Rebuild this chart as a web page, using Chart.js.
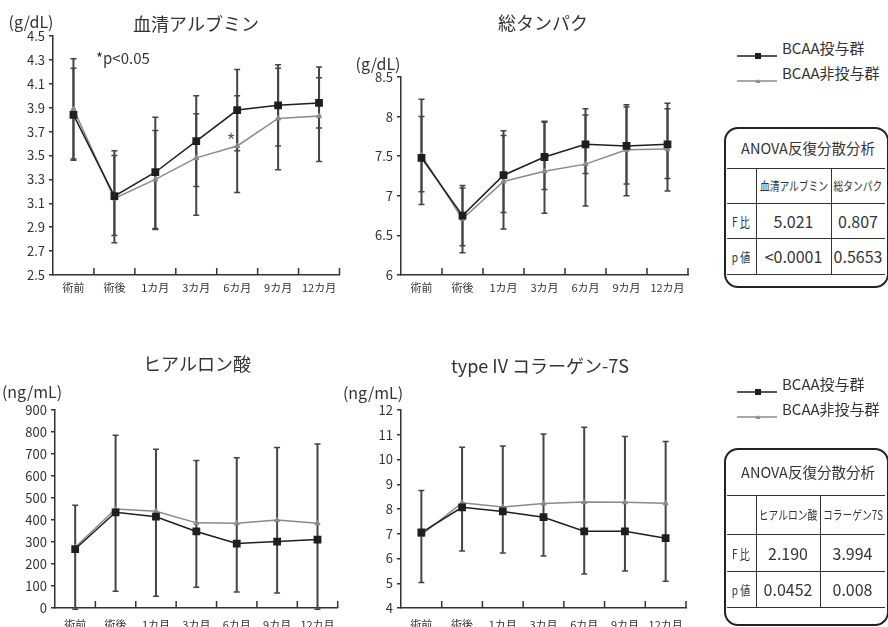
<!DOCTYPE html>
<html><head><meta charset="utf-8">
<script src="https://cdn.jsdelivr.net/npm/chart.js@4"></script>
<style>
html,body{margin:0;padding:0;width:888px;height:627px;overflow:hidden;background:#fff;}
body{position:relative;font-family:'Noto Sans CJK JP','Noto Sans',sans-serif;color:#333;font-weight:400;}
canvas{position:absolute;}
.t{position:absolute;white-space:nowrap;transform:translate(-50%,-50%);line-height:1;}
.l{position:absolute;white-space:nowrap;transform:translate(0,-50%);line-height:1;}
.box{position:absolute;border:2px solid #222;border-radius:14px;box-sizing:border-box;}
.hl{position:absolute;height:0;border-top:1.5px solid #333;}
.vl{position:absolute;width:0;border-left:1.5px solid #333;}
.cond{display:inline-block;transform:scaleX(0.78);}
</style></head><body>
<canvas id="c1" width="345" height="300" style="left:0;top:0"></canvas>
<canvas id="c2" width="350" height="300" style="left:345px;top:0"></canvas>
<canvas id="c3" width="345" height="310" style="left:0;top:330px"></canvas>
<canvas id="c4" width="350" height="310" style="left:345px;top:330px"></canvas>
<div id="overlay"></div>
<script>
const FONT = "'Noto Sans CJK JP','Noto Sans',sans-serif";
const categories = ['術前','術後','1カ月','3カ月','6カ月','9カ月','12カ月'];
const seriesNames = ['BCAA投与群','BCAA非投与群'];

// 血清アルブミン (g/dL)
const albBcaa   = [3.84,3.16,3.36,3.62,3.88,3.92,3.94];
const albBcaaLo = [3.46,2.77,2.89,3.24,3.54,3.58,3.45];
const albBcaaHi = [4.23,3.54,3.82,4.00,4.22,4.26,4.24];
const albNon    = [3.89,3.14,3.30,3.48,3.58,3.81,3.83];
const albNonLo  = [3.47,2.83,2.88,3.00,3.19,3.38,3.73];
const albNonHi  = [4.31,3.50,3.71,3.85,4.00,4.23,4.15];
const albTicks  = [2.5,2.7,2.9,3.1,3.3,3.5,3.7,3.9,4.1,4.3,4.5];

// 総タンパク (g/dL)
const tpBcaa   = [7.48,6.75,7.26,7.49,7.65,7.63,7.65];
const tpBcaaLo = [6.89,6.37,6.79,7.08,7.28,7.15,7.22];
const tpBcaaHi = [8.00,7.13,7.82,7.94,8.10,8.12,8.17];
const tpNon    = [7.51,6.71,7.18,7.31,7.40,7.58,7.59];
const tpNonLo  = [7.05,6.28,6.58,6.78,6.87,7.00,7.06];
const tpNonHi  = [8.22,7.10,7.76,7.93,8.02,8.15,8.10];
const tpTicks  = [6,6.5,7,7.5,8,8.5];

// ヒアルロン酸 (ng/mL)
const haBcaa   = [268,435,415,348,293,302,311];
const haBcaaLo = [-6,76,53,94,73,68,-6];
const haNon    = [276,450,440,387,385,400,385];
const haNonHi  = [467,785,722,670,683,730,745];
const haTicks  = [0,100,200,300,400,500,600,700,800,900];

// type IV コラーゲン-7S (ng/mL)
const c7Bcaa   = [7.05,8.07,7.90,7.67,7.10,7.10,6.82];
const c7BcaaLo = [5.03,6.30,6.22,6.10,5.37,5.50,5.08];
const c7Non    = [6.95,8.25,8.08,8.22,8.28,8.27,8.23];
const c7NonHi  = [8.75,10.50,10.55,11.03,11.30,10.93,10.73];
const c7Ticks  = [4,5,6,7,8,9,10,11,12];

// ANOVA tables
const anovaTopCols = ['血清アルブミン','総タンパク'];
const anovaTopF    = ['5.021','0.807'];
const anovaTopP    = ['<0.0001','0.5653'];
const anovaBotCols = ['ヒアルロン酸','コラーゲン7S'];
const anovaBotF    = ['2.190','3.994'];
const anovaBotP    = ['0.0452','0.008'];

const barsById = {
  c1: [{lo:albBcaaLo, hi:albBcaaHi},{lo:albNonLo, hi:albNonHi}],
  c2: [{lo:tpBcaaLo, hi:tpBcaaHi},{lo:tpNonLo, hi:tpNonHi}],
  c3: [{lo:haBcaaLo, hi:haNonHi}],
  c4: [{lo:c7BcaaLo, hi:c7NonHi}]
};

const errPlugin = {
  id:'errbars',
  beforeDatasetsDraw(chart){
    const bars = barsById[chart.canvas.id] || [];
    const xs = chart.scales.x, ys = chart.scales.y, ctx = chart.ctx;
    ctx.save();
    ctx.strokeStyle = '#444';
    bars.forEach(b=>{
      b.lo.forEach((lo,i)=>{
        const x = xs.getPixelForValue(i);
        const y1 = ys.getPixelForValue(lo), y2 = ys.getPixelForValue(b.hi[i]);
        ctx.lineWidth = 2;
        ctx.beginPath(); ctx.moveTo(x,y1); ctx.lineTo(x,y2); ctx.stroke();
        ctx.lineWidth = 1.5;
        ctx.beginPath();
        ctx.moveTo(x-3,y1); ctx.lineTo(x+3,y1);
        ctx.moveTo(x-3,y2); ctx.lineTo(x+3,y2);
        ctx.stroke();
      });
    });
    ctx.restore();
  },
  afterDraw(chart){
    const xs = chart.scales.x, ctx = chart.ctx, n = categories.length;
    const half = (xs.getPixelForValue(1) - xs.getPixelForValue(0))/2;
    ctx.save();
    ctx.strokeStyle = '#333'; ctx.lineWidth = 1.5;
    ctx.beginPath();
    for(let i=1;i<=n;i++){
      const x = i<n ? xs.getPixelForValue(i)-half : xs.getPixelForValue(n-1)+half;
      ctx.moveTo(x, xs.top); ctx.lineTo(x, xs.top-7);
    }
    ctx.stroke();
    ctx.restore();
  }
};

function makeChart(id, bcaa, non, ticks, fmt, lay){
  return new Chart(document.getElementById(id), {
    type:'line',
    data:{labels:categories, datasets:[
      {label:seriesNames[0], data:bcaa, borderColor:'#1e1e1e', backgroundColor:'#1e1e1e',
       borderWidth:1.5, pointStyle:'rect', pointRadius:5.5, pointBorderWidth:0, tension:0},
      {label:seriesNames[1], data:non, borderColor:'#8a8a8a', backgroundColor:'#8a8a8a',
       borderWidth:1.5, pointStyle:'triangle', pointRadius:3, pointBorderWidth:1, tension:0}
    ]},
    options:{
      responsive:false, animation:false, devicePixelRatio:1,
      layout:{padding:{top:lay.top, right:lay.right, left:0, bottom:0}},
      plugins:{legend:{display:false}, tooltip:{enabled:false}, title:{display:false}},
      scales:{
        x:{type:'category', offset:true,
           grid:{display:false, drawTicks:false, tickLength:0},
           border:{display:true, color:'#333', width:1.5},
           ticks:{color:'#333', font:{family:FONT, size:11}, padding:lay.xpad, maxRotation:0, autoSkip:false},
           afterFit:s=>{s.height = lay.xh;}},
        y:{type:'linear', min:ticks[0], max:ticks[ticks.length-1],
           afterBuildTicks:s=>{s.ticks = ticks.map(v=>({value:v}));},
           grid:{drawOnChartArea:false, drawTicks:true, tickLength:4, color:'#333', lineWidth:1.5},
           border:{display:true, color:'#333', width:1.5},
           ticks:{color:'#333', font:{family:FONT, size:13}, padding:4, callback:fmt},
           afterFit:s=>{s.width = lay.yw;}}
      }
    },
    plugins:[errPlugin]
  });
}

makeChart('c1', albBcaa, albNon, albTicks, v=>Number(v).toFixed(1), {top:36, right:5, xh:25, yw:53, xpad:6});
makeChart('c2', tpBcaa, tpNon, tpTicks, v=>String(v), {top:77, right:7, xh:25, yw:56, xpad:6});
makeChart('c3', haBcaa, haNon, haTicks, v=>String(v), {top:80, right:3, xh:32, yw:55, xpad:10});
makeChart('c4', c7Bcaa, c7Non, c7Ticks, v=>String(v), {top:80, right:9, xh:32, yw:56, xpad:10});

// ---- text, legends, tables ----
const ov = document.getElementById('overlay');
function txt(cls, x, y, s, size, extra){
  const d = document.createElement('div');
  d.className = cls; d.style.left = x+'px'; d.style.top = y+'px';
  d.style.fontSize = size+'px';
  if (extra) Object.assign(d.style, extra);
  d.innerHTML = s; ov.appendChild(d); return d;
}
function hl(x1,x2,y){const d=document.createElement('div');d.className='hl';d.style.left=x1+'px';d.style.width=(x2-x1)+'px';d.style.top=y+'px';ov.appendChild(d);}
function vl(x,y1,y2){const d=document.createElement('div');d.className='vl';d.style.left=x+'px';d.style.top=y1+'px';d.style.height=(y2-y1)+'px';ov.appendChild(d);}

txt('t',196,23,'血清アルブミン',18);
txt('t',543,22,'総タンパク',18);
txt('t',197,363,'ヒアルロン酸',18);
txt('t',540,365,'type IV コラーゲン-7S',18);
txt('t',31,21,'(g/dL)',16);
txt('t',378,63,'(g/dL)',16);
txt('t',32,391,'(ng/mL)',16);
txt('t',373,392,'(ng/mL)',16);
txt('l',96,57,'*p&lt;0.05',15);
txt('t',231,140,'*',22,{color:'#555', fontWeight:'300'});

function legend(y0){
  const mk = (y, color, marker) => {
    const d = document.createElement('div');
    d.style.position='absolute'; d.style.left='737px'; d.style.top=(y-5)+'px';
    d.innerHTML = '<svg width="40" height="10"><line x1="0" y1="5" x2="40" y2="5" stroke="'+color+'" stroke-width="1.5"/>'+marker+'</svg>';
    ov.appendChild(d);
  };
  mk(y0,'#1e1e1e','<rect x="18" y="2" width="6" height="6" fill="#1e1e1e"/>');
  mk(y0+25,'#8a8a8a','<polygon points="21,3 23.5,7 18.5,7" fill="#8a8a8a"/>');
  txt('l',782,y0,seriesNames[0],15);
  txt('l',782,y0+25,seriesNames[1],15);
}
legend(47);
legend(383);

function table(t, b, vx, ys, cols, fv, pv){
  const box = document.createElement('div');
  box.className='box'; box.style.left='724px'; box.style.top=t+'px';
  box.style.width='165px'; box.style.height=(b-t)+'px';
  ov.appendChild(box);
  ys.forEach(y=>hl(727,885,y));
  vl(756, ys[0], ys[3]); vl(vx, ys[0], ys[3]);
  txt('t',808,(t+ys[0])/2,'ANOVA反復分散分析',14.5);
  const c1 = (756+vx)/2, c2 = (vx+885)/2;
  const r1 = (ys[0]+ys[1])/2, r2 = (ys[1]+ys[2])/2, r3 = (ys[2]+ys[3])/2;
  txt('t',c1,r1,'<span class="cond">'+cols[0]+'</span>',12.5);
  txt('t',c2,r1,'<span class="cond">'+cols[1]+'</span>',12.5);
  txt('t',741,r2,'<span class="cond">F 比</span>',13);
  txt('t',741,r3,'<span class="cond">p 値</span>',13);
  txt('t',c1,r2,fv[0],16); txt('t',c2,r2,fv[1],16);
  txt('t',c1,r3,pv[0],16); txt('t',c2,r3,pv[1],16);
}
table(127, 288, 831, [168,203,238,274], anovaTopCols, anovaTopF, anovaTopP);
table(448, 626, 820, [495,534,571,607], anovaBotCols, anovaBotF, anovaBotP);
</script>
</body></html>
